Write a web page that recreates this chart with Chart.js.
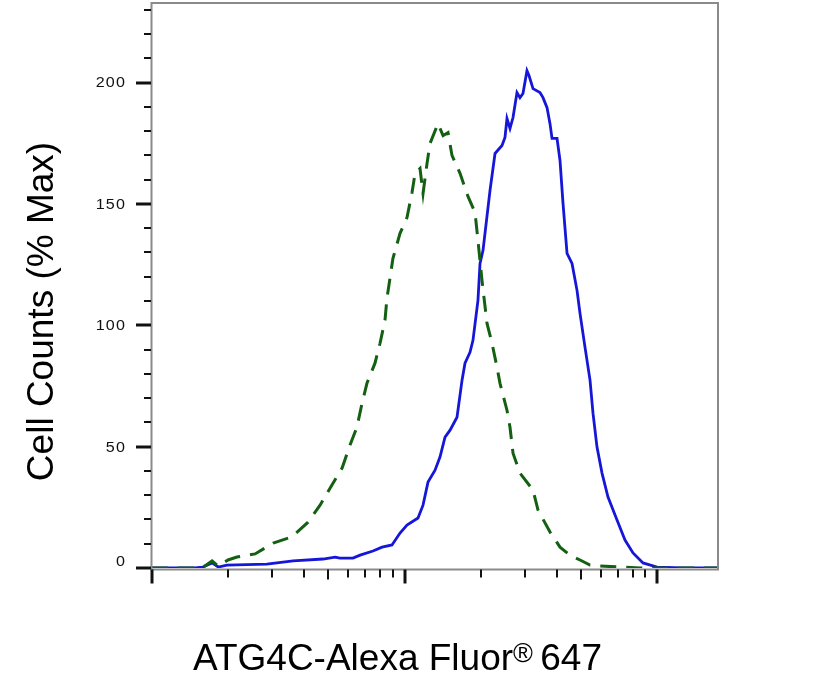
<!DOCTYPE html>
<html>
<head>
<meta charset="utf-8">
<script src="https://cdn.jsdelivr.net/npm/chart.js@4.4.1/dist/chart.umd.min.js"></script>
<style>
  html, body { margin: 0; padding: 0; background: #fff; }
  #wrap { width: 821px; height: 687px; position: relative; }
</style>
</head>
<body>
<div id="wrap"><canvas id="histo"></canvas></div>
<script>
// ---------------------------- Data ----------------------------

// stained sample (solid blue), fluorescence intensity vs % max
const blueX = [100, 148, 159, 173, 183, 198, 285, 362, 476, 531, 555, 625, 667, 750, 815, 892,
    960, 1023, 1131, 1184, 1239, 1321, 1382, 1447, 1515, 1614, 1690, 1736, 1817, 1867, 1954,
    1991, 2046, 2181, 2283, 2433, 2500, 2546, 2617, 2690, 2789, 2866, 2946, 3055, 3112, 3228,
    3440, 3536, 3668, 3769, 3839, 4018, 4129, 4244, 4402, 4607, 4822, 4955, 5187, 5429, 5578,
    5786, 6056, 6396, 6944, 7469, 8035, 8801, 10000, 12677, 17440];
const blueY = [0, 0, 0.4, 2.1, 0.4, 1.2, 1.6, 2.9, 3.7, 4.5, 4.1, 4.1, 5.3, 7.0, 8.6, 9.5,
    14.4, 17.7, 20.6, 25.9, 35.4, 40.3, 45.7, 53.9, 56.8, 62.1, 77.4, 84.4, 88.9, 93.8, 110.3,
    125.5, 130.9, 155.6, 170.8, 174.1, 177.4, 185.2, 181.1, 185.6, 195.9, 193.8, 195.5, 204.9, 202.9, 197.5,
    195.9, 193.8, 189.7, 183.1, 177.0, 177.0, 167.9, 150.2, 129.6, 125.5, 114.4, 104.9, 90.9, 77.4, 63.8,
    49.8, 39.1, 29.2, 19.8, 11.5, 6.2, 2.1, 0.4, 0, 0];

// isotype control (dashed green)
const greenX = [100, 148, 162, 173, 183, 200, 217, 256, 302, 358, 415, 463, 516, 566, 608, 648,
    679, 710, 764, 800, 837, 852, 900, 960, 1023, 1071, 1101, 1152, 1184, 1228, 1262, 1357,
    1421, 1487, 1542, 1659, 1784, 1902, 1954, 2027, 2122, 2221, 2325, 2389, 2546, 2617, 2690,
    2866, 3228, 3378, 3769, 4129, 4523, 4955, 5429, 5947, 7138, 8564, 17440];
const greenY = [0, 0, 0.8, 2.9, 0.8, 3.3, 4.5, 5.8, 10.3, 12.8, 18.9, 25.9, 34.2, 41.2, 50.6, 58.0,
    67.9, 76.1, 84.4, 92.6, 102.1, 111.1, 127.6, 137.9, 144.4, 154.7, 162.6, 164.6, 154.3, 166.7, 174.9, 183.1,
    178.2, 179.4, 170.0, 162.6, 153.1, 146.5, 135.0, 118.5, 100.8, 92.6, 82.7, 76.1, 65.0, 58.0, 47.3,
    39.1, 32.1, 23.9, 14.8, 8.6, 5.3, 3.3, 1.2, 0.8, 0.4, 0, 0];

// axis ticks
const xMajorTicks = [100, 1000, 10000];
const xMinorTicks = [200, 300, 400, 500, 600, 700, 800, 900,
    2000, 3000, 4000, 5000, 6000, 7000, 8000, 9000];
const yMajorTicks = [0, 50, 100, 150, 200];
const yMinorTicks = [10, 20, 30, 40, 60, 70, 80, 90, 110, 120, 130, 140,
    160, 170, 180, 190, 210, 220, 230];

const xTitle = 'ATG4C-Alexa Fluor';
const xTitleSup = '\u00AE';
const xTitleEnd = ' 647';
const yTitle = 'Cell Counts (% Max)';

// ---------------------------- Chart ----------------------------

function toPoints(xs, ys) {
    return xs.map((x, i) => ({ x: x, y: ys[i] }));
}

// frame, tick marks, tick labels and titles
const axisDecor = {
    id: 'axisDecor',
    afterDraw(chart) {
        const ctx = chart.ctx;
        const xs = chart.scales.x;
        const ys = chart.scales.y;
        const area = chart.chartArea;
        const bottom = 569.5;

        ctx.save();

        // box
        ctx.strokeStyle = '#8a8a8a';
        ctx.lineWidth = 2;
        ctx.strokeRect(area.left - 0.5, area.top, area.right - area.left + 0.5, bottom - area.top);

        ctx.strokeStyle = '#111';

        // y ticks
        yMinorTicks.forEach(v => {
            const y = Math.round(ys.getPixelForValue(v));
            ctx.lineWidth = 2;
            ctx.beginPath();
            ctx.moveTo(area.left - 8, y);
            ctx.lineTo(area.left - 1, y);
            ctx.stroke();
        });
        yMajorTicks.forEach(v => {
            const y = Math.round(ys.getPixelForValue(v));
            ctx.lineWidth = 3;
            ctx.beginPath();
            ctx.moveTo(area.left - 16, y);
            ctx.lineTo(area.left - 1, y);
            ctx.stroke();
        });

        // x ticks
        xMinorTicks.forEach(v => {
            const x = Math.round(xs.getPixelForValue(v));
            ctx.lineWidth = 2;
            ctx.beginPath();
            ctx.moveTo(x, bottom);
            ctx.lineTo(x, bottom + (v === 500 || v === 5000 ? 10 : 8));
            ctx.stroke();
        });
        xMajorTicks.forEach(v => {
            const x = Math.round(xs.getPixelForValue(v));
            ctx.lineWidth = 3;
            ctx.beginPath();
            ctx.moveTo(x, bottom);
            ctx.lineTo(x, bottom + 14);
            ctx.stroke();
        });

        // y tick labels
        ctx.fillStyle = '#111';
        ctx.font = '14px "Liberation Sans", Arial, sans-serif';
        ctx.letterSpacing = '1px';
        ctx.textAlign = 'right';
        ctx.textBaseline = 'middle';
        yMajorTicks.forEach(v => {
            let y = ys.getPixelForValue(v) + 1;
            if (v === 0) y -= 7;
            ctx.save();
            ctx.translate(126, y);
            ctx.scale(1.15, 1);
            ctx.fillText(String(v), 0, 0);
            ctx.restore();
        });
        ctx.letterSpacing = '0px';

        // titles
        ctx.fillStyle = '#000';
        ctx.font = '37px "Liberation Sans", Arial, sans-serif';
        ctx.textBaseline = 'alphabetic';
        ctx.save();
        ctx.translate(53, 311.5);
        ctx.rotate(-Math.PI / 2);
        ctx.textAlign = 'center';
        ctx.fillText(yTitle, 0, 0);
        ctx.restore();

        ctx.textAlign = 'left';
        let tx = 193;
        const baseY = 670;
        ctx.fillText(xTitle, tx, baseY);
        tx += ctx.measureText(xTitle).width;
        ctx.font = '27px "Liberation Sans", Arial, sans-serif';
        ctx.fillText(xTitleSup, tx, baseY - 8);
        tx += ctx.measureText(xTitleSup).width;
        ctx.font = '37px "Liberation Sans", Arial, sans-serif';
        ctx.fillText(xTitleEnd, tx - 3, baseY);

        ctx.restore();
    }
};

new Chart(document.getElementById('histo'), {
    type: 'line',
    data: {
        datasets: [{
            label: 'Isotype control',
            data: toPoints(greenX, greenY),
            borderColor: '#136013',
            borderWidth: 3,
            borderDash: [16, 10],
            pointRadius: 0,
            tension: 0,
            fill: false,
            order: 1
        }, {
            label: 'ATG4C',
            data: toPoints(blueX, blueY),
            borderColor: '#1616d8',
            borderWidth: 2.8,
            pointRadius: 0,
            tension: 0,
            fill: false,
            order: 2
        }]
    },
    options: {
        responsive: true,
        maintainAspectRatio: false,
        animation: false,
        devicePixelRatio: 1,
        layout: { padding: { left: 152, right: 103, top: 3, bottom: 119 } },
        plugins: { legend: { display: false }, tooltip: { enabled: false } },
        scales: {
            x: { type: 'logarithmic', min: 100, max: 17440, display: false },
            y: { type: 'linear', min: 0, max: 232.8, display: false }
        }
    },
    plugins: [axisDecor]
});
</script>
</body>
</html>
